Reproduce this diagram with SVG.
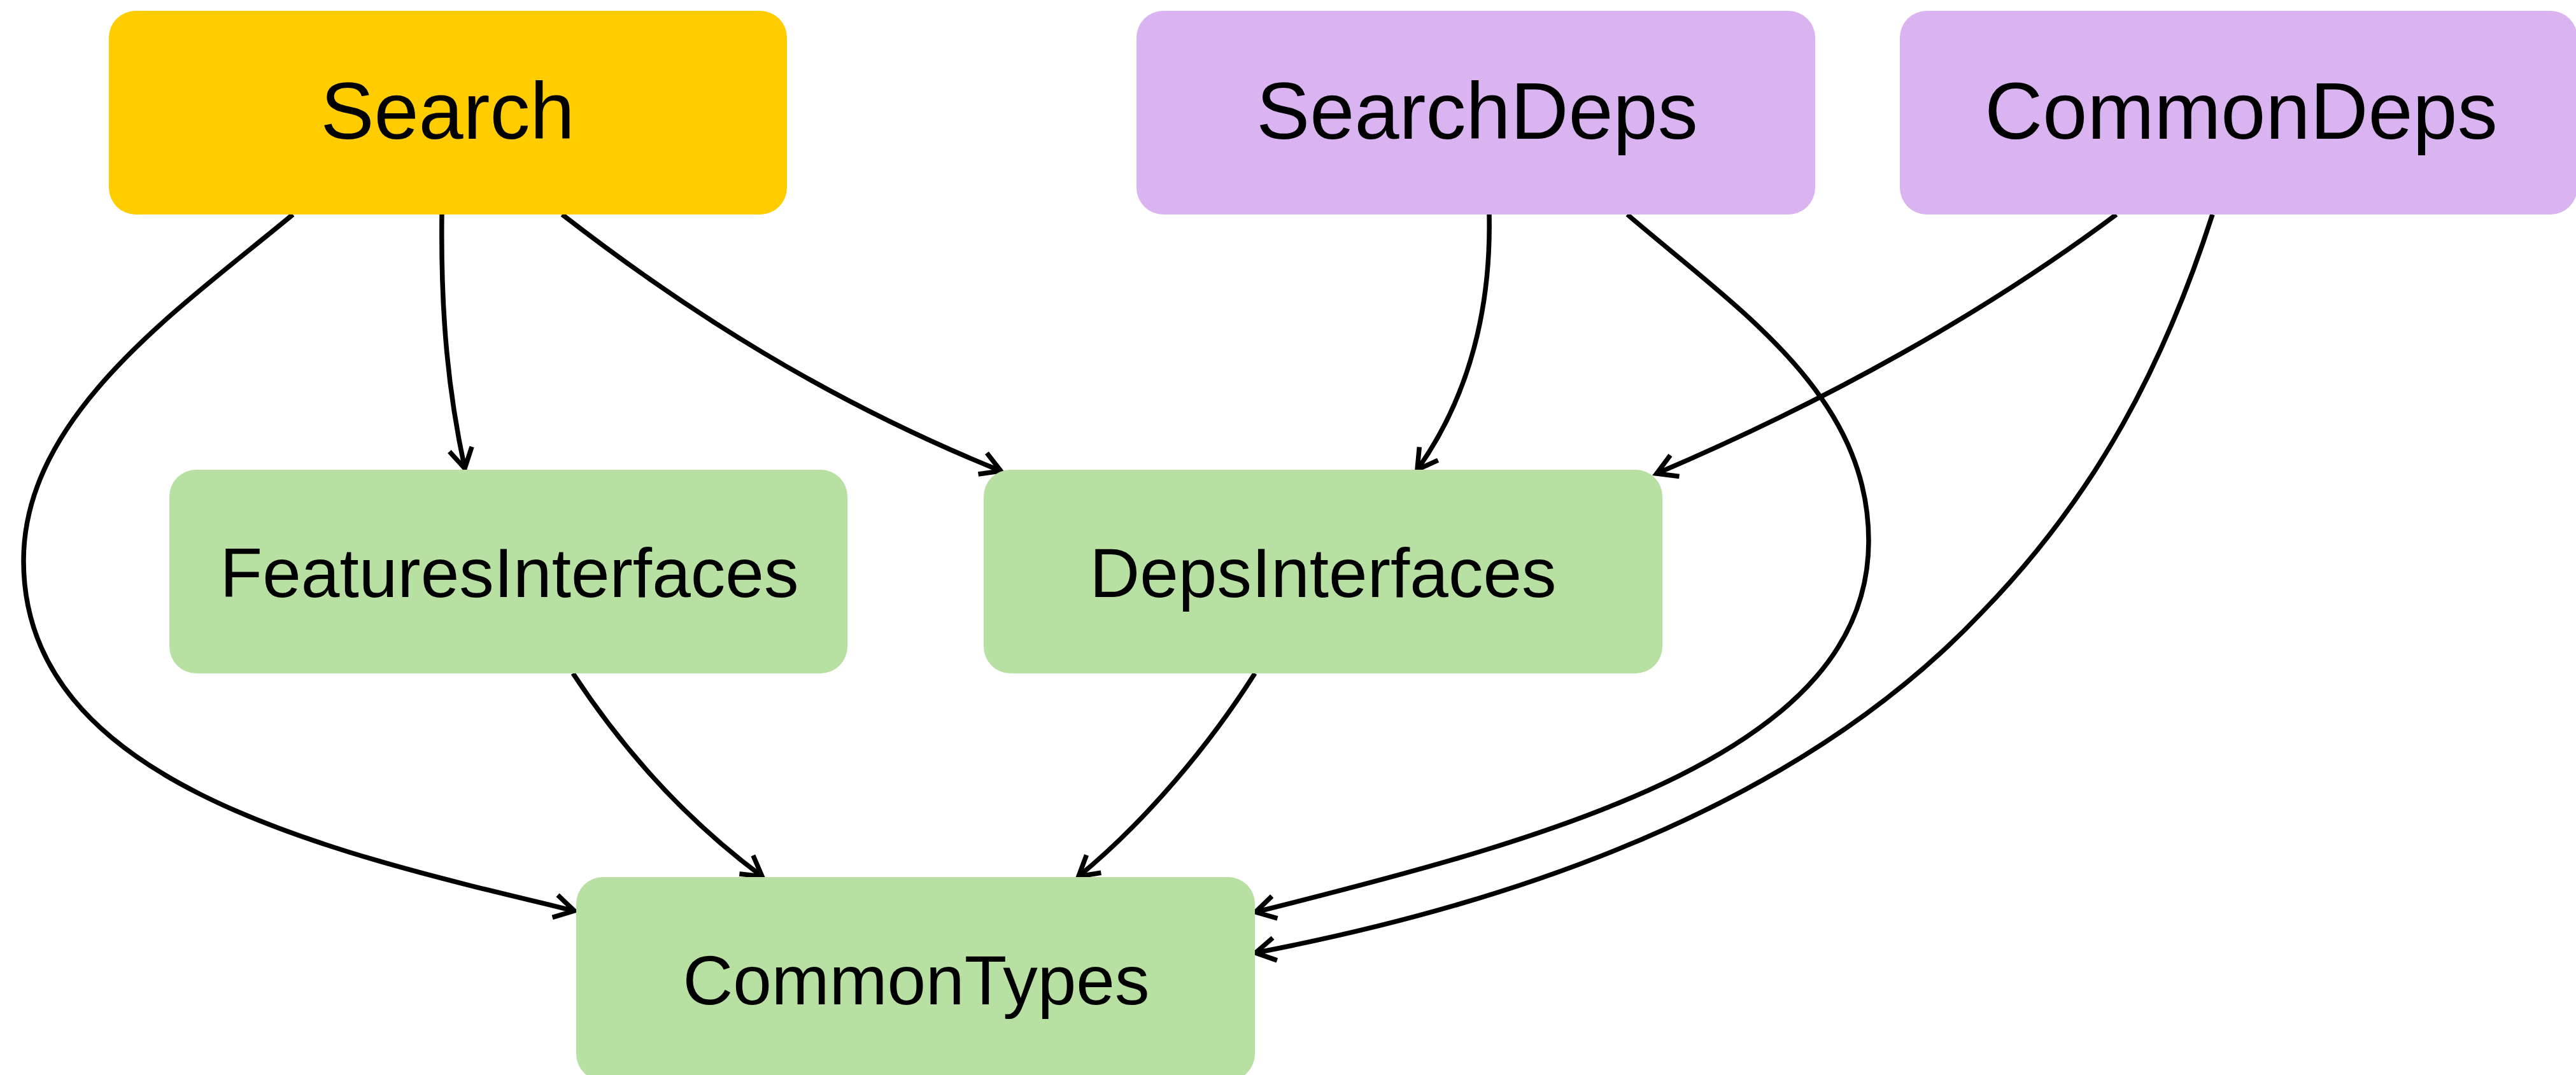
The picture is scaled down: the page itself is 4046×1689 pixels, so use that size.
<svg xmlns="http://www.w3.org/2000/svg" width="4046" height="1689" viewBox="0 0 4046 1689">
  <style>
    .box { stroke: none; }
    .root { fill: #FFCC00; }
    .dep { fill: #DAB4F0; }
    .iface { fill: #B8E0A2; }
    .label { font-family: "Liberation Sans", Arial, sans-serif; fill: #000000; text-anchor: middle; }
    .big { font-size: 126px; }
    .small { font-size: 109px; }
    .edge { fill: none; stroke: #000000; stroke-width: 7.5; marker-end: url(#arrow); }
  </style>
  <defs>
    <!-- open chevron arrowhead, tip at the end of the path -->
    <marker id="arrow" markerUnits="userSpaceOnUse" orient="auto" viewBox="-40 -25 45 50" markerWidth="45" markerHeight="50" refX="0" refY="0" overflow="visible">
      <path d="M-31,-18 L0,0 L-31,18" fill="none" stroke="#000000" stroke-width="7.5" stroke-linejoin="miter"/>
    </marker>
  </defs>

  <rect width="4046" height="1689" fill="#FFFFFF"/>

  <!-- connectors -->
  <g id="connectors">
    <path id="e-search-features" class="edge" d="M694,337 C692,500 705,620 730,736"/>
    <path id="e-search-common" class="edge" d="M460,337 C283,484 37,651 37,881 C37,1231 513,1338 902,1431"/>
    <path id="e-search-deps" class="edge" d="M883,337 C1080,490 1300,630 1572,740"/>
    <path id="e-searchdeps-deps" class="edge" d="M2339,337 C2342,480 2310,620 2226,738"/>
    <path id="e-searchdeps-common" class="edge" d="M2556,337 C2730,486 2935,620 2935,850 C2935,1180 2457,1312 1972,1433"/>
    <path id="e-commondeps-deps" class="edge" d="M3324,337 C3120,490 2870,630 2602,744"/>
    <path id="e-commondeps-common" class="edge" d="M3475,337 C3400,570 3295,775 3113,962 C2825,1267 2384,1418 1972,1497"/>
    <path id="e-features-common" class="edge" d="M900,1058 C980,1180 1080,1290 1197,1377"/>
    <path id="e-deps-common" class="edge" d="M1971,1058 C1900,1170 1800,1290 1694,1377"/>
  </g>

  <!-- nodes -->
  <g id="node-search">
    <rect class="box root" x="171" y="17" width="1065" height="320" rx="42" ry="42"/>
    <text class="label big" x="703" y="218">Search</text>
  </g>
  <g id="node-searchdeps">
    <rect class="box dep" x="1785" y="17" width="1066" height="320" rx="42" ry="42"/>
    <text class="label big" x="2320" y="218">SearchDeps</text>
  </g>
  <g id="node-commondeps">
    <rect class="box dep" x="2984" y="17" width="1064" height="320" rx="42" ry="42"/>
    <text class="label big" x="3520" y="218">CommonDeps</text>
  </g>
  <g id="node-featuresinterfaces">
    <rect class="box iface" x="266" y="738" width="1065" height="320" rx="42" ry="42"/>
    <text class="label small" x="800" y="938">FeaturesInterfaces</text>
  </g>
  <g id="node-depsinterfaces">
    <rect class="box iface" x="1545" y="738" width="1066" height="320" rx="42" ry="42"/>
    <text class="label small" x="2078" y="938">DepsInterfaces</text>
  </g>
  <g id="node-commontypes">
    <rect class="box iface" x="905" y="1378" width="1066" height="320" rx="42" ry="42"/>
    <text class="label small" x="1439" y="1578">CommonTypes</text>
  </g>
</svg>
